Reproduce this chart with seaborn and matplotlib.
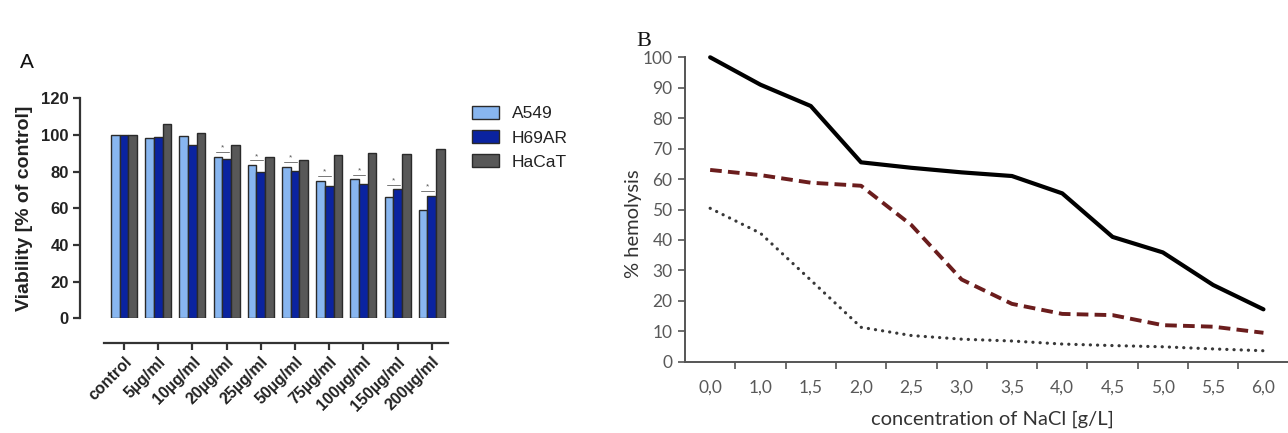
import matplotlib
matplotlib.use("Agg")
import matplotlib.pyplot as plt
from matplotlib.patches import Patch
import numpy as np
import pandas as pd
import seaborn as sns

# ---- Panel A: cell viability ----
concentrations = ["control", "5µg/ml", "10µg/ml", "20µg/ml", "25µg/ml",
                  "50µg/ml", "75µg/ml", "100µg/ml", "150µg/ml", "200µg/ml"]
cell_lines = ["A549", "H69AR", "HaCaT"]
a549 = [100, 98.5, 99.3, 88.1, 83.6, 82.7, 75.0, 75.9, 66.2, 59.1]
h69ar = [100, 98.9, 94.3, 86.9, 79.6, 80.5, 72.3, 73.2, 70.4, 66.8]
hacat = [100, 106.2, 101.3, 94.3, 87.8, 86.5, 89.1, 90.1, 89.8, 92.2]
significant = [False, False, False, True, True, True, True, True, True, True]
viability_ticks = [0, 20, 40, 60, 80, 100, 120]

# ---- Panel B: hemolysis ----
nacl_labels = ["0,0", "1,0", "1,5", "2,0", "2,5", "3,0",
               "3,5", "4,0", "4,5", "5,0", "5,5", "6,0"]
hemolysis_solid = [100, 91, 84, 65.5, 63.7, 62.2, 61, 55.3, 41, 35.9, 25.2, 17.2]
hemolysis_dashed = [63, 61.3, 58.8, 57.8, 44.9, 27, 19, 15.7, 15.3, 12, 11.5, 9.5]
hemolysis_dotted = [50.4, 42.2, 26.8, 11.3, 8.6, 7.4, 6.8, 5.8, 5.3, 4.9, 4.2, 3.6]
hemolysis_ticks = [0, 10, 20, 30, 40, 50, 60, 70, 80, 90, 100]

sns.set_theme(style="white")
plt.rcParams["font.family"] = ["Liberation Sans", "DejaVu Sans"]

W, H = 1288, 433
fig = plt.figure(figsize=(W / 100, H / 100), dpi=100)


def fx(px):
    return px / W


def fy(py):
    return 1 - py / H


# ================= Panel A =================
axA = fig.add_axes([fx(104), fy(318.3), fx(448) - fx(104), fy(98.3) - fy(318.3)])
df = pd.DataFrame({
    "conc": np.repeat(concentrations, 3),
    "line": cell_lines * len(concentrations),
    "value": np.ravel(np.column_stack([a549, h69ar, hacat])),
})
palette = {"A549": "#88b6f0", "H69AR": "#0a23a0", "HaCaT": "#585858"}
group_width = 0.76
sns.barplot(data=df, x="conc", y="value", hue="line", order=concentrations,
            hue_order=cell_lines, palette=palette, width=group_width,
            edgecolor="#2a2a2a", linewidth=1.0, saturation=1, ax=axA,
            legend=False, errorbar=None)

axA.set_xlim(-0.585, -0.585 + 344 / 34.2)
axA.set_ylim(0, 120)
for side in ("top", "right"):
    axA.spines[side].set_visible(False)
axA.spines["left"].set_position(("outward", 17.3))
axA.spines["bottom"].set_position(("outward", 17.8))
for side in ("left", "bottom"):
    axA.spines[side].set_color("#333333")
    axA.spines[side].set_linewidth(1.6)
axA.tick_params(axis="both", which="major", length=5, width=1.6,
                color="#333333", pad=3, left=True, bottom=True)
axA.set_yticks(viability_ticks)
axA.set_yticklabels([str(t) for t in viability_ticks], fontweight="bold",
                    fontsize=12, color="#222222")
axA.set_xticks(range(len(concentrations)))
axA.set_xticklabels(concentrations, rotation=45, ha="right",
                    rotation_mode="anchor", fontweight="bold", fontsize=11.5,
                    color="#222222")
axA.set_xlabel("")
axA.set_ylabel("Viability [% of control]", fontweight="bold", fontsize=14,
               color="#222222")
axA.yaxis.set_label_coords(-0.205, 0.5)

# significance marks above the A549 / H69AR pair
w = group_width / 3
for i, sig in enumerate(significant):
    if not sig:
        continue
    top = max(a549[i], h69ar[i])
    axA.plot([i - w - 0.06, i + 0.06], [top + 2.5, top + 2.5],
             color="#777777", lw=0.7)
    axA.text(i - w / 2, top + 2.8, "*", ha="center", va="bottom",
             fontsize=6, color="#555555")

handles = [Patch(facecolor=palette[c], edgecolor="#2a2a2a", linewidth=1.0)
           for c in cell_lines]
fig.legend(handles, cell_lines, loc="upper left",
           bbox_to_anchor=(fx(472), fy(106)), frameon=False, fontsize=12.5,
           handlelength=1.55, handleheight=0.75, handletextpad=0.75,
           labelspacing=0.5, borderpad=0, borderaxespad=0,
           labelcolor="#222222")

fig.text(fx(27), fy(62), "A", ha="center", va="center", fontsize=15,
         color="#111111")

# ================= Panel B =================
axB = fig.add_axes([fx(685), fy(361.7), fx(1288) - fx(685),
                    fy(57.3) - fy(361.7)])
xpos = np.arange(len(nacl_labels))
sns.lineplot(x=xpos, y=hemolysis_solid, ax=axB, color="#000000", lw=3.0,
             clip_on=False)
sns.lineplot(x=xpos, y=hemolysis_dashed, ax=axB, color="#6b1d1d", lw=2.8,
             clip_on=False)
axB.lines[-1].set_dashes((3.0, 1.6))
sns.lineplot(x=xpos, y=hemolysis_dotted, ax=axB, color="#383838", lw=2.3,
             clip_on=False)
axB.lines[-1].set_linestyle((0, (0.05, 2.2)))
axB.lines[-1].set_dash_capstyle("round")

cat_w = 50.3
axB.set_xlim(-0.5, -0.5 + (1288 - 685) / cat_w)
axB.set_ylim(0, 100)
for side in ("top", "right"):
    axB.spines[side].set_visible(False)
for side in ("left", "bottom"):
    axB.spines[side].set_color("#555555")
    axB.spines[side].set_linewidth(1.4)

lato = ["Lato", "DejaVu Sans"]
axB.tick_params(axis="y", which="major", length=5, width=1.2,
                color="#555555", pad=4, left=True)
axB.tick_params(axis="x", which="major", length=5, width=1.2,
                color="#555555", direction="out", bottom=True)
axB.tick_params(axis="x", which="minor", length=0, pad=13, bottom=True)
axB.set_yticks(hemolysis_ticks)
axB.set_yticklabels([str(t) for t in hemolysis_ticks], fontsize=12.5,
                    color="#595959", family=lato)
# boundary ticks between categories, labels centred on categories
axB.set_xticks(np.arange(len(nacl_labels) - 1) + 0.5)
axB.set_xticklabels([])
axB.set_xticks(xpos, minor=True)
axB.set_xticklabels(nacl_labels, minor=True, fontsize=12.5, color="#595959",
                    family=lato)

axB.set_xlabel("concentration of NaCl [g/L]", fontsize=14.5, color="#333333",
               family=lato)
axB.xaxis.set_label_coords(0.51, -0.16)
axB.set_ylabel("% hemolysis", fontsize=14.5, color="#333333", family=lato)
axB.yaxis.set_label_coords(-0.072, 0.452)

fig.text(fx(644), fy(41), "B", ha="center", va="center", fontsize=16,
         family=["Liberation Serif", "DejaVu Serif"], color="#111111")

fig.savefig("out.png", dpi=100)
